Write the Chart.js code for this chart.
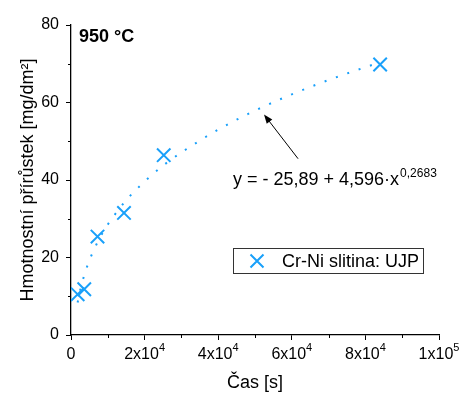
<!DOCTYPE html>
<html>
<head>
<meta charset="utf-8">
<script src="https://cdn.jsdelivr.net/npm/chart.js@4/dist/chart.umd.min.js"></script>
<style>body{margin:0;background:#fff}</style>
</head>
<body>
<canvas id="myChart" width="469" height="405"></canvas>
<script>
// measured points
var timeSec  = [1800, 3600, 7200, 14400, 25200, 84000];
var massGain = [10.5, 11.8, 25.4, 31.5, 46.4, 69.8];

// dotted fit curve
var fitTime = [1800, 2500, 3000, 4000, 5000, 6000, 7500, 10000, 12000, 15000, 20000, 25000, 30000, 40000, 50000, 60000, 70000, 84000];
var fitGain = [8.4, 11.6, 13.5, 16.6, 19.3, 21.5, 24.5, 28.5, 31.2, 34.8, 39.6, 43.7, 47.1, 53.0, 57.9, 62.1, 65.8, 70.4];

var xTickValues = [0, 20000, 40000, 60000, 80000, 100000];
var yTickValues = [0, 20, 40, 60, 80];
var xMinorTicks = [10000, 30000, 50000, 70000, 90000];
var yMinorTicks = [10, 30, 50, 70];

var seriesName = "Cr-Ni slitina: UJP";
var tempLabel = "950 °C";
var eqMain = "y = - 25,89 + 4,596·x";
var eqExp = "0,2683";
var xTitle = "Čas [s]";
var yTitle = "Hmotnostní přírůstek [mg/dm²]";

var blue = "rgb(25,160,250)";
var FONT = "'Liberation Sans', Arial, sans-serif";

Chart.defaults.font.family = FONT;
Chart.defaults.color = "#000";

//////////////////////////////////////
//          Annotations             //
//////////////////////////////////////

const extrasPlugin = {
    id: 'extras',
    afterDraw: function(chart) {
        const ctx = chart.ctx;
        const xs = chart.scales.x;
        const ys = chart.scales.y;
        const area = chart.chartArea;

        ctx.save();
        ctx.strokeStyle = "#000";
        ctx.lineWidth = 1;

        // minor ticks
        xMinorTicks.forEach(function(v) {
            let px = Math.round(xs.getPixelForValue(v)) + 0.5;
            ctx.beginPath();
            ctx.moveTo(px, area.bottom);
            ctx.lineTo(px, area.bottom + 3);
            ctx.stroke();
        });
        yMinorTicks.forEach(function(v) {
            let py = Math.round(ys.getPixelForValue(v)) + 0.5;
            ctx.beginPath();
            ctx.moveTo(area.left, py);
            ctx.lineTo(area.left - 3, py);
            ctx.stroke();
        });

        // x tick labels with exponents
        ctx.fillStyle = "#000";
        ctx.textBaseline = "alphabetic";
        xTickValues.forEach(function(v) {
            let px = xs.getPixelForValue(v);
            let base = area.bottom + 24;
            if (v === 0) {
                ctx.font = "16px " + FONT;
                ctx.textAlign = "center";
                ctx.fillText("0", px, base);
                return;
            }
            let e = Math.floor(Math.log10(v));
            let m = Math.round(v / Math.pow(10, e));
            let main = m + "x10";
            let sup = String(e);
            ctx.font = "16px " + FONT;
            let w1 = ctx.measureText(main).width;
            ctx.font = "11px " + FONT;
            let w2 = ctx.measureText(sup).width;
            let x0 = px - (w1 + w2) / 2;
            ctx.textAlign = "left";
            ctx.font = "16px " + FONT;
            ctx.fillText(main, x0, base);
            ctx.font = "11px " + FONT;
            ctx.fillText(sup, x0 + w1, base - 8);
        });

        // temperature label
        ctx.font = "bold 18px " + FONT;
        ctx.textAlign = "left";
        ctx.textBaseline = "middle";
        ctx.fillText(tempLabel, 79, 37);

        // equation
        ctx.textBaseline = "alphabetic";
        ctx.font = "18px " + FONT;
        ctx.fillText(eqMain, 233, 185);
        let we = ctx.measureText(eqMain).width;
        ctx.font = "12px " + FONT;
        ctx.fillText(eqExp, 233 + we + 1, 177);

        // arrow pointing at the fit curve
        let tx = xs.getPixelForValue(52450), ty = ys.getPixelForValue(56.9);
        let sx = xs.getPixelForValue(61700), sy = ys.getPixelForValue(45.5);
        let ang = Math.atan2(ty - sy, tx - sx);
        ctx.strokeStyle = "#000";
        ctx.lineWidth = 1;
        ctx.beginPath();
        ctx.moveTo(sx, sy);
        ctx.lineTo(tx - 6 * Math.cos(ang), ty - 6 * Math.sin(ang));
        ctx.stroke();
        ctx.beginPath();
        ctx.moveTo(tx, ty);
        ctx.lineTo(tx - 9 * Math.cos(ang) + 3.5 * Math.sin(ang), ty - 9 * Math.sin(ang) - 3.5 * Math.cos(ang));
        ctx.lineTo(tx - 9 * Math.cos(ang) - 3.5 * Math.sin(ang), ty - 9 * Math.sin(ang) + 3.5 * Math.cos(ang));
        ctx.closePath();
        ctx.fill();

        // legend box
        ctx.strokeStyle = "#333";
        ctx.strokeRect(233.5, 248.5, 190, 25);
        ctx.strokeStyle = blue;
        ctx.lineWidth = 2;
        ctx.beginPath();
        ctx.moveTo(250.5, 254.5); ctx.lineTo(263.5, 267.5);
        ctx.moveTo(263.5, 254.5); ctx.lineTo(250.5, 267.5);
        ctx.stroke();
        ctx.font = "18px " + FONT;
        ctx.textBaseline = "middle";
        ctx.fillStyle = "#000";
        ctx.fillText(seriesName, 282, 262);

        ctx.restore();
    }
};

//////////////////////////////////////
//             Chart                //
//////////////////////////////////////

const ctx = document.getElementById('myChart').getContext('2d');
const chart = new Chart(ctx, {
    type: 'scatter',
    data: {
        datasets: [
            {
                label: seriesName,
                data: timeSec.map((t, i) => ({ x: t, y: massGain[i] })),
                pointStyle: 'crossRot',
                pointRadius: 9.5,
                pointBorderWidth: 2,
                borderColor: blue,
                backgroundColor: blue,
                order: 0
            },
            {
                label: 'fit',
                data: fitTime.map((t, i) => ({ x: t, y: fitGain[i] })),
                showLine: true,
                pointRadius: 0,
                borderColor: blue,
                borderWidth: 2,
                borderDash: [2, 10],
                cubicInterpolationMode: 'monotone',
                order: 1
            }
        ]
    },
    options: {
        responsive: false,
        animation: false,
        layout: { padding: { left: 0, top: 25, right: 30, bottom: 0 } },
        plugins: {
            legend: { display: false },
            tooltip: { enabled: false }
        },
        scales: {
            x: {
                type: 'linear',
                min: 0,
                max: 100000,
                ticks: { stepSize: 20000, color: 'rgba(0,0,0,0)', padding: 6 },
                grid: { drawOnChartArea: false, drawTicks: true, tickLength: 5, color: '#000' },
                border: { color: '#000', width: 1.3 },
                title: { display: true, text: xTitle, font: { size: 18 }, color: '#000', padding: { top: 0, bottom: 11 } },
                afterFit: function(s) { s.height = 70; }
            },
            y: {
                min: 0,
                max: 80,
                ticks: { stepSize: 20, font: { size: 16 }, color: '#000', padding: 7 },
                grid: { drawOnChartArea: false, drawTicks: true, tickLength: 5, color: '#000' },
                border: { color: '#000', width: 1.3 },
                title: { display: true, text: yTitle, font: { size: 18 }, color: '#000', padding: { top: 17, bottom: 0 } },
                afterFit: function(s) { s.width = 71; }
            }
        }
    },
    plugins: [extrasPlugin]
});
</script>
</body>
</html>
